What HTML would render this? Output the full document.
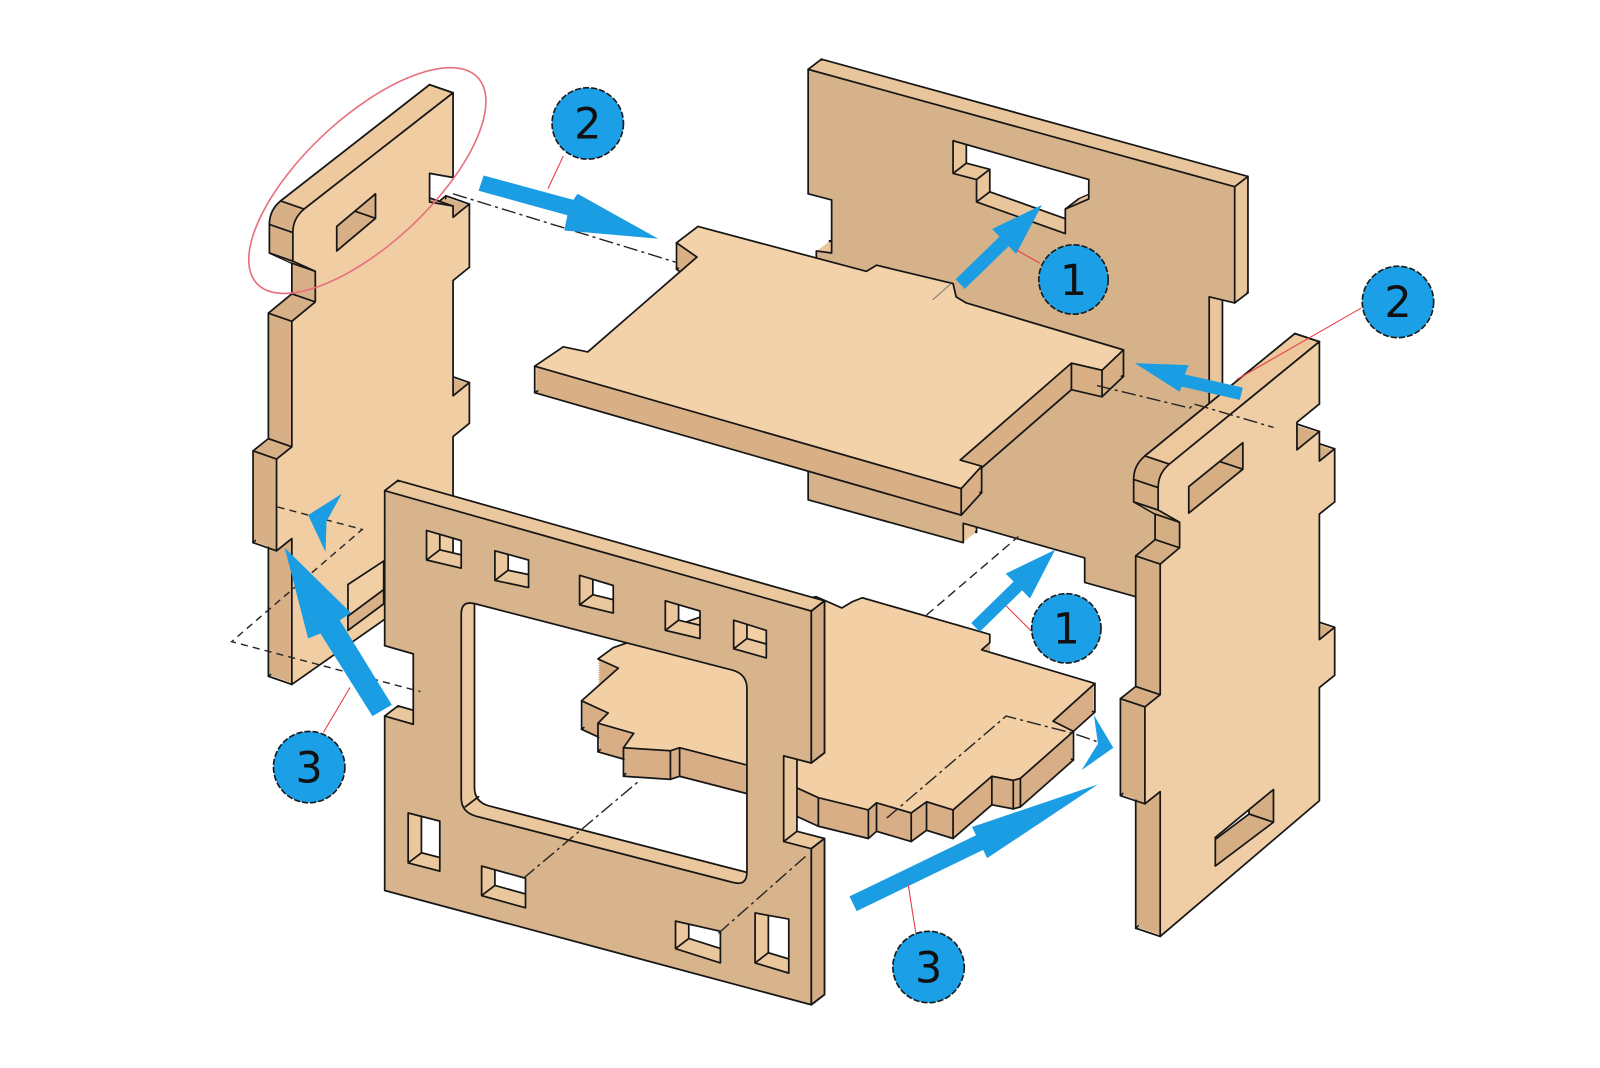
<!DOCTYPE html>
<html><head><meta charset="utf-8"><title>Exploded assembly</title>
<style>html,body{margin:0;padding:0;background:#fff;}svg{display:block}</style></head>
<body>
<svg width="1600" height="1068" viewBox="0 0 1568 1047" preserveAspectRatio="none" xmlns="http://www.w3.org/2000/svg" xmlns:xlink="http://www.w3.org/1999/xlink">
<defs>
<path id="bp" fill-rule="evenodd" d="M792,68 L1210,183 L1210,297 L1185,291 L1185,605 L1063,571 L1063,547 L944,513 L944,532 L792,490 L792,300 L800,300 L800,246 L815,248 L815,196 L792,190 Z M934,138 L1067,176 L1067,195 L1044,205 L1044,229 L957,198 L957,176 L934,170 Z"/>
<path id="seat" d="M663,238 L684,222 L849,266 L859,260 L934,278 L937,291 L947,297 L1101,343 L1080,363 L1050,356 L941,451 L962,457 L942,479 L524,359 L552,340 L576,345 L683,252 Z"/>
<path id="lp" fill-rule="evenodd" d="M287,256 L287,228 Q287,214 298,205 L444,91 L444,174 L421,170 L421,198 L444,202 L444,213 L460,200 L460,262 L444,275 L444,388 L460,375 L460,415 L444,428 L444,560 L286,671 L286,528 L271,540 L271,450 L286,438 L286,315 L309,296 L309,266 Z M330,222 L368,190 L368,214 L330,246 Z"/>
<path id="rp" fill-rule="evenodd" d="M1135,500 L1135,478 Q1135,464 1146,455 L1293,335 L1293,396 L1271,414 L1271,441 L1293,423 L1293,452 L1308,440 L1308,492 L1293,504 L1293,627 L1308,615 L1308,662 L1293,674 L1293,785 L1137,918 L1137,776 L1122,788 L1122,693 L1137,681 L1137,553 L1156,537 L1156,512 Z M1165,477 L1218,434 L1218,460 L1165,503 Z M1191,821 L1248,774 L1248,806 L1191,849 Z"/>
<path id="sp" d="M601,635 L700,600 L800,585 L825,596 L835,590 L845,586 L960,619 L970,622 L970,630 L962,637 L1073,670 L1032,707 L1052,717 L1000,763 L993,765 L972,761 L934,794 L908,786 L893,797 L859,787 L851,794 L802,782 L732,750 L666,733 L657,736 L611,733 L621,719 L586,709 L596,699 L570,687 L606,655 L586,646 Z"/>
<path id="fp" fill-rule="evenodd" d="M377,481 L795,599 L795,748 L768,741 L768,825 L795,832 L795,985 L377,873 L377,702 L405,710 L405,641 L377,633 Z
M466,592 L718,657 Q732,661 732,675 L732,855 Q732,869 718,865 L466,800 Q452,796 452,782 L452,602 Q452,588 466,592 Z
M418,520 L452,530 L452,557 L418,549 Z
M485,540 L518,549 L518,576 L485,569 Z
M568,564 L601,574 L601,601 L568,593 Z
M652,589 L686,599 L686,626 L652,618 Z
M719,608 L751,618 L751,645 L719,636 Z
M400,797 L431,805 L431,854 L400,846 Z
M472,849 L515,861 L515,890 L472,878 Z
M662,903 L706,913 L706,944 L662,930 Z
M740,895 L773,901 L773,954 L740,944 Z"/>
</defs>

<rect x="0" y="0" width="1568" height="1047" fill="#ffffff"/>

<g stroke="#161616" stroke-width="1.7" stroke-linejoin="round" stroke-linecap="round">
  <!-- Back panel -->
  <use xlink:href="#bp" href="#bp" transform="translate(13,-10)" fill="#e8c59b"/>
  <g fill="#e8c59b" stroke="none">
    <use href="#bp" transform="translate(1.04,-0.8)"/><use href="#bp" transform="translate(2.08,-1.6)"/><use href="#bp" transform="translate(3.12,-2.4)"/><use href="#bp" transform="translate(4.16,-3.2)"/><use href="#bp" transform="translate(5.2,-4)"/><use href="#bp" transform="translate(6.24,-4.8)"/><use href="#bp" transform="translate(7.28,-5.6)"/><use href="#bp" transform="translate(8.32,-6.4)"/><use href="#bp" transform="translate(9.36,-7.2)"/><use href="#bp" transform="translate(10.4,-8)"/><use href="#bp" transform="translate(11.44,-8.8)"/>
  </g>
  <path fill="none" d="M792,68l13,-10M1210,183l13,-10M1210,297l13,-10M1185,291l13,-10M1063,547l13,-10M944,513l13,-10M934,138l13,-10M1067,176l13,-10M1067,195l13,-10M1044,205l13,-10M1044,229l13,-10M957,198l13,-10M957,176l13,-10M934,170l13,-10M815,196l13,-10M792,190l13,-10"/>
  <use xlink:href="#bp" href="#bp" fill="#d6b28b"/>

  <!-- Seat (upper shelf) -->
  <use xlink:href="#seat" href="#seat" transform="translate(0,26)" fill="#d9b086"/>
  <g fill="#d9b086" stroke="none">
    <use href="#seat" transform="translate(0,2.08)"/><use href="#seat" transform="translate(0,4.16)"/><use href="#seat" transform="translate(0,6.24)"/><use href="#seat" transform="translate(0,8.32)"/><use href="#seat" transform="translate(0,10.4)"/><use href="#seat" transform="translate(0,12.48)"/><use href="#seat" transform="translate(0,14.56)"/><use href="#seat" transform="translate(0,16.64)"/><use href="#seat" transform="translate(0,18.72)"/><use href="#seat" transform="translate(0,20.8)"/><use href="#seat" transform="translate(0,22.88)"/>
  </g>
  <path fill="none" d="M663,238v26M684,222v26M849,266v26M859,260v26M934,278v26M937,291v26M947,297v26M1101,343v26M1080,363v26M1050,356v26M941,451v26M962,457v26M942,479v26M524,359v26M552,340v26M576,345v26M683,252v26"/>
  <use xlink:href="#seat" href="#seat" fill="#f3d2a9"/>

  <!-- Left side panel -->
  <use xlink:href="#lp" href="#lp" transform="translate(-23,-8)" fill="#d8b087"/>
  <g fill="#d8b087" stroke="none">
    <use href="#lp" transform="translate(-1.84,-0.64)"/><use href="#lp" transform="translate(-3.68,-1.28)"/><use href="#lp" transform="translate(-5.52,-1.92)"/><use href="#lp" transform="translate(-7.36,-2.56)"/><use href="#lp" transform="translate(-9.2,-3.2)"/><use href="#lp" transform="translate(-11.04,-3.84)"/><use href="#lp" transform="translate(-12.88,-4.48)"/><use href="#lp" transform="translate(-14.72,-5.12)"/><use href="#lp" transform="translate(-16.56,-5.76)"/><use href="#lp" transform="translate(-18.4,-6.4)"/><use href="#lp" transform="translate(-20.24,-7.04)"/>
  </g>
  <!-- lighter top strip of handle -->
  <path d="M298,205 L444,91 L421,83 L275,197 Z" fill="#eec99d"/>
  <path fill="none" d="M287,256l-23,-8M287,228l-23,-8M444,91l-23,-8M444,174l-23,-8M421,170l-23,-8M421,198l-23,-8M444,202l-23,-8M460,200l-23,-8M460,262l-23,-8M460,375l-23,-8M444,388l-23,-8M286,671l-23,-8M271,540l-23,-8M271,450l-23,-8M286,438l-23,-8M286,315l-23,-8M309,296l-23,-8M309,266l-23,-8M368,190l-23,-8M368,214l-23,-8M330,222l-23,-8M330,246l-23,-8"/>
  <use xlink:href="#lp" href="#lp" fill="#f0cda3"/>

  <!-- small tab strip between left panel and frame -->
  <path d="M341,604 L376,578 L376,592 L341,618 Z" fill="#d9b088"/>
  <path d="M341,573 L376,550 L376,578 L341,604 Z" fill="#f0cfa5"/>

  <!-- Lower shelf -->
  <use xlink:href="#sp" href="#sp" transform="translate(0,28)" fill="#d7ae85"/>
  <g fill="#d7ae85" stroke="none">
    <use href="#sp" transform="translate(0,2.24)"/><use href="#sp" transform="translate(0,4.48)"/><use href="#sp" transform="translate(0,6.72)"/><use href="#sp" transform="translate(0,8.96)"/><use href="#sp" transform="translate(0,11.2)"/><use href="#sp" transform="translate(0,13.44)"/><use href="#sp" transform="translate(0,15.68)"/><use href="#sp" transform="translate(0,17.92)"/><use href="#sp" transform="translate(0,20.16)"/><use href="#sp" transform="translate(0,22.4)"/><use href="#sp" transform="translate(0,24.64)"/>
  </g>
  <path fill="none" d="M1073,670v28M1052,717v28M1000,763v28M993,765v28M972,761v28M934,794v28M908,786v28M893,797v28M859,787v28M851,794v28M802,782v28M666,733v28M657,736v28M611,733v28M586,709v28M570,687v28M962,637v28"/>
  <use xlink:href="#sp" href="#sp" fill="#f2cfa5"/>

  <!-- Right side panel -->
  <use xlink:href="#rp" href="#rp" transform="translate(-24,-8)" fill="#d6ae84"/>
  <g fill="#d6ae84" stroke="none">
    <use href="#rp" transform="translate(-1.92,-0.64)"/><use href="#rp" transform="translate(-3.84,-1.28)"/><use href="#rp" transform="translate(-5.76,-1.92)"/><use href="#rp" transform="translate(-7.68,-2.56)"/><use href="#rp" transform="translate(-9.6,-3.2)"/><use href="#rp" transform="translate(-11.52,-3.84)"/><use href="#rp" transform="translate(-13.44,-4.48)"/><use href="#rp" transform="translate(-15.36,-5.12)"/><use href="#rp" transform="translate(-17.28,-5.76)"/><use href="#rp" transform="translate(-19.2,-6.4)"/><use href="#rp" transform="translate(-21.12,-7.04)"/>
  </g>
  <path d="M1146,455 L1293,335 L1269,327 L1122,447 Z" fill="#edc89c"/>
  <path fill="none" d="M1135,500l-24,-8M1135,478l-24,-8M1293,335l-24,-8M1293,396l-24,-8M1271,414l-24,-8M1271,441l-24,-8M1293,423l-24,-8M1308,440l-24,-8M1308,492l-24,-8M1308,615l-24,-8M1293,627l-24,-8M1137,918l-24,-8M1122,788l-24,-8M1122,693l-24,-8M1137,681l-24,-8M1137,553l-24,-8M1156,537l-24,-8M1156,512l-24,-8M1218,434l-24,-8M1218,460l-24,-8M1165,477l-24,-8M1165,503l-24,-8M1248,774l-24,-8M1248,806l-24,-8M1191,821l-24,-8M1191,849l-24,-8"/>
  <use xlink:href="#rp" href="#rp" fill="#efcda5"/>

  <!-- Front frame -->
  <use xlink:href="#fp" href="#fp" transform="translate(13,-10)" fill="#eac79d"/>
  <g fill="#eac79d" stroke="none">
    <use href="#fp" transform="translate(1.04,-0.8)"/><use href="#fp" transform="translate(2.08,-1.6)"/><use href="#fp" transform="translate(3.12,-2.4)"/><use href="#fp" transform="translate(4.16,-3.2)"/><use href="#fp" transform="translate(5.2,-4)"/><use href="#fp" transform="translate(6.24,-4.8)"/><use href="#fp" transform="translate(7.28,-5.6)"/><use href="#fp" transform="translate(8.32,-6.4)"/><use href="#fp" transform="translate(9.36,-7.2)"/><use href="#fp" transform="translate(10.4,-8)"/><use href="#fp" transform="translate(11.44,-8.8)"/>
  </g>
  <!-- darker right edge strips of frame -->
  <path d="M795,599 L808,589 L808,738 L795,748 Z" fill="#d3ac83"/>
  <path d="M795,832 L808,822 L808,975 L795,985 Z" fill="#d3ac83"/>
  <path fill="none" d="M377,481l13,-10M795,599l13,-10M795,748l13,-10M768,741l13,-10M768,825l13,-10M795,832l13,-10M795,985l13,-10M377,702l13,-10M405,710l13,-10M405,641l13,-10M377,633l13,-10M456,791l13,-10M418,549l13,-10M485,569l13,-10M568,593l13,-10M652,618l13,-10M719,636l13,-10M400,846l13,-10M472,878l13,-10M662,930l13,-10M740,944l13,-10"/>
  <use xlink:href="#fp" href="#fp" fill="#d8b48d"/>
</g>

<!-- centre / hidden lines -->
<g fill="none" stroke="#262626" stroke-width="1.4">
  <path stroke-dasharray="14 4 3 4" d="M444,190 L662,257"/>
  <path stroke-dasharray="14 4 3 4" d="M1075,378 L1166,400 L1170,396 L1248,419"/>
  <path stroke-dasharray="7 5" d="M272,497 L355,519 L227,629 L412,678"/>
  <path stroke-dasharray="14 4 3 4" d="M513,861 L627,765"/>
  <path stroke-dasharray="14 4 3 4" d="M704,915 L790,839"/>
  <path stroke-dasharray="9 5" d="M908,603 L998,526"/>
  <path stroke-dasharray="14 4 3 4" d="M869,802 L986,702 L1052,719 L1078,728"/>
  <path stroke="#777" stroke-width="1" d="M914,294 L932,278"/>
</g>

<!-- blue arrows -->
<g fill="#1b9de4">
  <path d="M474,172 L562,196 L566,190 L645,234 L553,226 L556,211 L469,187 Z"/>
  <path d="M936.5,273.8 L979.5,232 L972.2,224.5 L1021,201 L995.8,248.9 L988.5,241.4 L945.5,283.2 Z"/>
  <path d="M1112,356 L1165,358 L1161,367 L1218,380 L1215,392 L1158,379 L1156,384 Z"/>
  <path d="M951.8,610.7 L993.3,570.2 L985.6,562.3 L1034,539 L1009.4,586.7 L1001.7,578.8 L960.2,619.3 Z"/>
  <path d="M832.5,878.8 L956.5,818.8 L952.6,810.7 L1076,769 L967.4,841.3 L963.5,833.2 L839.5,893.2 Z"/>
  <path d="M279,537 L344,601 L333,608 L384,691 L365,702 L314,621 L302,626 Z"/>
  <path d="M302,505 L335,484 L320,511 L319,541 Z"/>
  <path d="M1091,733 L1072,701 L1076,729 L1060,755 Z"/>
</g>

<!-- red leader lines -->
<g stroke="#e8404a" stroke-width="1.1" fill="none">
  <path d="M552,153 L537,185"/>
  <path d="M996,245 L1019,258"/>
  <path d="M1334,302 L1212,372"/>
  <path d="M986,594 L1011,619"/>
  <path d="M343,674 L317,718"/>
  <path d="M890,867 L898,918"/>
</g>

<!-- callout balloons -->
<g stroke="#1a1a1a" stroke-width="1.6" stroke-dasharray="6 2" fill="#1b9fe6">
  <circle cx="576" cy="121" r="35"/>
  <circle cx="1052" cy="274" r="34"/>
  <circle cx="1370" cy="296" r="35"/>
  <circle cx="1045" cy="616" r="34"/>
  <circle cx="303" cy="752" r="35"/>
  <circle cx="910" cy="948" r="35"/>
</g>
<g font-family="'DejaVu Sans','Liberation Sans',sans-serif" font-size="42" fill="#111" text-anchor="middle">
  <text x="576" y="136">2</text>
  <text x="1052" y="289">1</text>
  <text x="1370" y="311">2</text>
  <text x="1045" y="631">1</text>
  <text x="303" y="767">3</text>
  <text x="910" y="963">3</text>
</g>

<!-- red highlight ellipse -->
<ellipse cx="360" cy="177" rx="148" ry="62" transform="rotate(-43 360 177)" fill="none" stroke="#e8707e" stroke-width="1.6"/>
</svg>
</body></html>
